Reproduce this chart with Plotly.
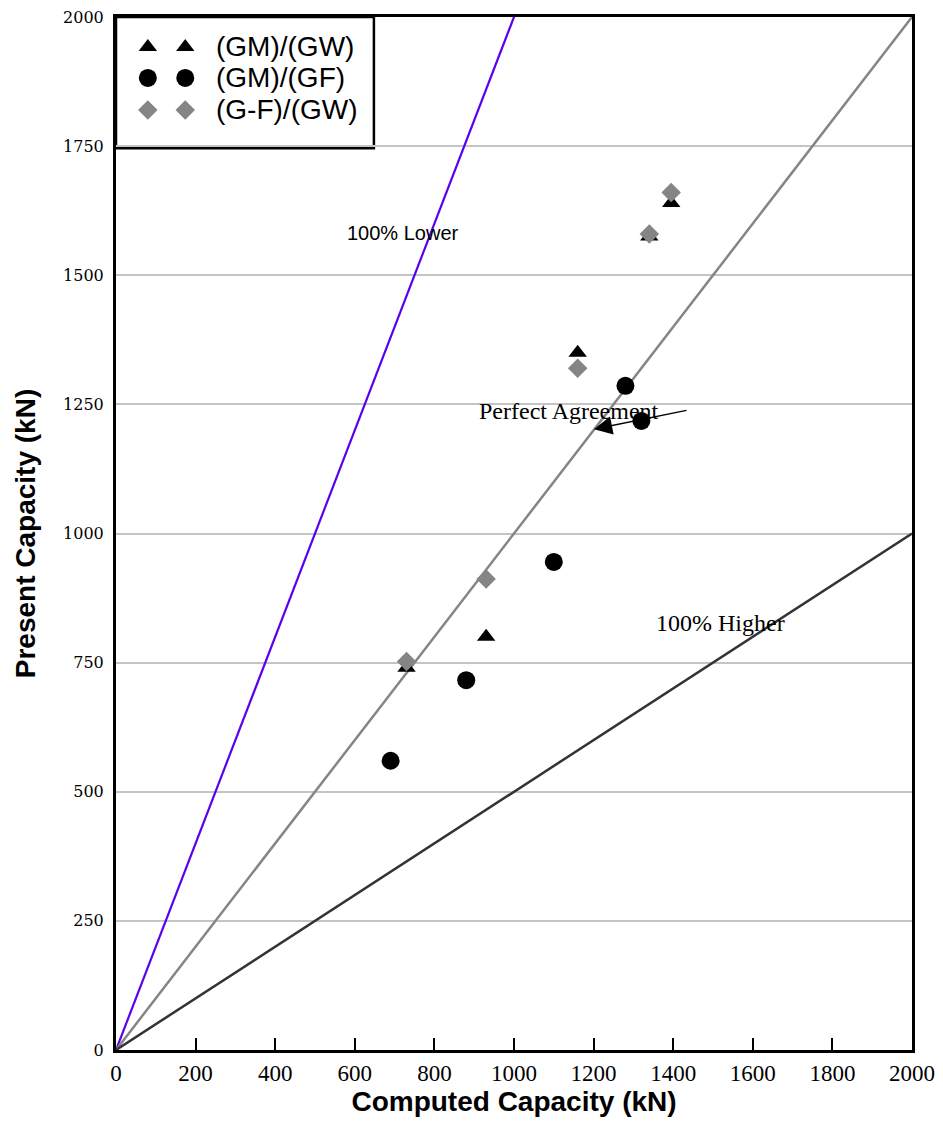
import plotly.graph_objects as go

# Data
gm_gw_x = [730, 930, 1160, 1340, 1395]
gm_gw_y = [740, 800, 1350, 1575, 1640]
gm_gf_x = [690, 880, 1100, 1280, 1320]
gm_gf_y = [560, 716, 945, 1286, 1218]
gf_gw_x = [730, 930, 1160, 1340, 1395]
gf_gw_y = [752, 912, 1320, 1580, 1660]

ref_x = [0, 2000]
lower_y = [0, 4000]    # 100% lower: y = 2x
perfect_y = [0, 2000]  # y = x
higher_y = [0, 1000]   # 100% higher: y = 0.5x

x_ticks = list(range(0, 2001, 200))
y_ticks = list(range(0, 2001, 250))

legend_names = ["(GM)/(GW)", "(GM)/(GF)", "(G-F)/(GW)"]

fig = go.Figure()

# reference lines
fig.add_trace(go.Scatter(x=ref_x, y=lower_y, mode="lines",
                         line=dict(color="#5a00f0", width=2.2), showlegend=False))
fig.add_trace(go.Scatter(x=ref_x, y=perfect_y, mode="lines",
                         line=dict(color="#858585", width=2.5), showlegend=False))
fig.add_trace(go.Scatter(x=ref_x, y=higher_y, mode="lines",
                         line=dict(color="#333333", width=2.5), showlegend=False))

# data
fig.add_trace(go.Scatter(x=gm_gw_x, y=gm_gw_y, mode="markers", name=legend_names[0],
                         marker=dict(symbol="triangle-up", size=16, color="black"), showlegend=False))
fig.add_trace(go.Scatter(x=gm_gf_x, y=gm_gf_y, mode="markers", name=legend_names[1],
                         marker=dict(symbol="circle", size=18, color="black"), showlegend=False))
fig.add_trace(go.Scatter(x=gf_gw_x, y=gf_gw_y, mode="markers", name=legend_names[2],
                         marker=dict(symbol="diamond", size=15, color="#858585"), showlegend=False))

# custom legend on overlay axes (0..1 of plot area)
leg_rows = [0.971, 0.941, 0.910]
leg_syms = ["triangle-up", "circle", "diamond"]
leg_cols = ["black", "black", "#858585"]
leg_sizes = [16, 18, 15]
for r, s, c, sz in zip(leg_rows, leg_syms, leg_cols, leg_sizes):
    fig.add_trace(go.Scatter(x=[0.040, 0.087], y=[r, r], mode="markers", xaxis="x2", yaxis="y2",
                             marker=dict(symbol=s, size=sz, color=c), showlegend=False,
                             hoverinfo="skip"))

fig.add_shape(type="rect", xref="paper", yref="paper", x0=0.0, x1=0.324, y0=0.873, y1=1.0,
              line=dict(color="black", width=2.5), fillcolor="white", layer="below")

for r, name in zip(leg_rows, legend_names):
    fig.add_annotation(xref="paper", yref="paper", x=0.123, y=r, text=name, showarrow=False,
                       xanchor="left", yanchor="middle",
                       font=dict(family="Liberation Sans, Arial", size=28, color="black"))

# annotations
fig.add_annotation(x=720, y=1582, text="100% Lower", showarrow=False,
                   font=dict(family="Liberation Sans, Arial", size=20, color="black"))
fig.add_annotation(x=1518, y=827, text="100% Higher", showarrow=False,
                   font=dict(family="Liberation Serif, Times New Roman", size=24, color="black"))
fig.add_annotation(x=1138, y=1237, text="Perfect Agreement", showarrow=False,
                   font=dict(family="Liberation Serif, Times New Roman", size=24, color="black"))
fig.add_annotation(x=1201, y=1202, ax=1437, ay=1239, axref="x", ayref="y", text="",
                   showarrow=True, arrowhead=2, arrowsize=2.6, arrowwidth=1.4, arrowcolor="black")

fig.update_layout(
    width=935, height=1122,
    margin=dict(l=108, r=31, t=9, b=80),
    plot_bgcolor="white", paper_bgcolor="white",
    showlegend=False,
    xaxis=dict(range=[0, 2000], tickvals=x_ticks, ticktext=[str(v) for v in x_ticks],
               automargin=False, ticklabeloverflow="allow",
               showgrid=False, zeroline=False,
               showline=True, mirror=True, linecolor="black", linewidth=3,
               ticks="inside", ticklen=12, tickwidth=2, tickcolor="black",
               tickfont=dict(family="Liberation Serif, Times New Roman", size=23, color="black"),
               title=dict(text="<b>Computed Capacity (kN)</b>", standoff=6,
                          font=dict(family="Liberation Sans, Arial", size=28, color="black"))),
    yaxis=dict(range=[0, 2000], tickvals=y_ticks, ticktext=[str(v) for v in y_ticks],
               automargin=False, ticklabeloverflow="allow",
               showgrid=True, gridcolor="#c4c4c4", gridwidth=2, zeroline=False,
               showline=True, mirror=True, linecolor="black", linewidth=3,
               ticks="", ticklabelstandoff=6,
               tickfont=dict(family="DejaVu Serif", size=16, color="black"),
               title=dict(text="<b>Present Capacity (kN)</b>", standoff=20,
                          font=dict(family="Liberation Sans, Arial", size=28, color="black"))),
    xaxis2=dict(range=[0, 1], overlaying="x", visible=False, fixedrange=True),
    yaxis2=dict(range=[0, 1], overlaying="y", visible=False, fixedrange=True),
)

fig.write_html("out.html")
